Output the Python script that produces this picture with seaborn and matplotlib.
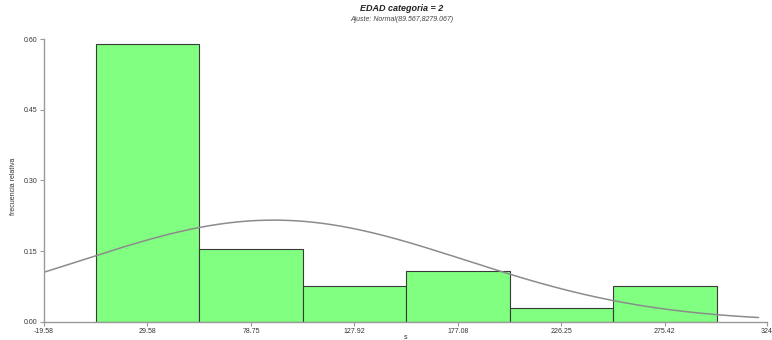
import numpy as np
import pandas as pd
import matplotlib
matplotlib.use("Agg")
import matplotlib.pyplot as plt
import seaborn as sns

# Data
bin_centers = [29.58, 78.75, 127.92, 177.08, 226.25, 275.42]
rel_freq = [0.590, 0.155, 0.076, 0.107, 0.030, 0.076]
bin_width = 49.17
fit_mean = 89.567
fit_var = 8279.067
x_ticks = [-19.58, 29.58, 78.75, 127.92, 177.08, 226.25, 275.42, 324]
x_tick_labels = ["-19.58", "29.58", "78.75", "127.92", "177.08", "226.25", "275.42", "324"]
y_ticks = [0.00, 0.15, 0.30, 0.45, 0.60]
y_tick_labels = ["0.00", "0.15", "0.30", "0.45", "0.60"]

sns.set_style("white")
plt.rcParams['font.family'] = ['Liberation Sans', 'DejaVu Sans']

fig = plt.figure(figsize=(7.72, 3.4), dpi=100)
ax = fig.add_axes([0.057, 0.054, 0.9365, 0.831])

edges = [bin_centers[0] - bin_width / 2 + i * bin_width for i in range(len(bin_centers) + 1)]
df = pd.DataFrame({"s": bin_centers, "w": rel_freq})
sns.histplot(data=df, x="s", weights="w", bins=edges, stat="count",
             color="#80FF80", alpha=1.0, edgecolor="#3a3a3a", linewidth=0.8, ax=ax)

sd = np.sqrt(fit_var)
xs = np.linspace(x_ticks[0], 320, 300)
ys = bin_width * np.exp(-0.5 * ((xs - fit_mean) / sd) ** 2) / (sd * np.sqrt(2 * np.pi))
sns.lineplot(x=xs, y=ys, color="#8c8c8c", linewidth=1.1, ax=ax)

ax.set_xlim(x_ticks[0], x_ticks[-1])
ax.set_ylim(0, 0.60)
ax.set_xticks(x_ticks)
ax.set_xticklabels(x_tick_labels, fontsize=5, color="#333333")
ax.set_yticks(y_ticks)
ax.set_yticklabels(y_tick_labels, fontsize=5, color="#333333")
ax.tick_params(axis="both", direction="out", length=3, width=0.8, color="#999999", pad=1.5,
               bottom=True, left=True)
for sp in ["top", "right"]:
    ax.spines[sp].set_visible(False)
for sp in ["left", "bottom"]:
    ax.spines[sp].set_color("#999999")
    ax.spines[sp].set_linewidth(1.0)

ax.set_xlabel("s", fontsize=5, color="#333333", labelpad=1)
ax.set_ylabel("frecuencia relativa", fontsize=5, color="#333333", labelpad=14)
ax.yaxis.set_label_coords(-0.038, 0.48)
ax.xaxis.set_label_coords(0.5, -0.045)

fig.text(0.52, 0.974, "EDAD categoria = 2", ha="center", va="center",
         fontsize=6.5, fontweight="bold", fontstyle="italic", color="#222222")
fig.text(0.52, 0.943, "Ajuste: Normal(89.567,8279.067)", ha="center", va="center",
         fontsize=5, fontstyle="italic", color="#444444")

fig.savefig("out.png", dpi=100)
